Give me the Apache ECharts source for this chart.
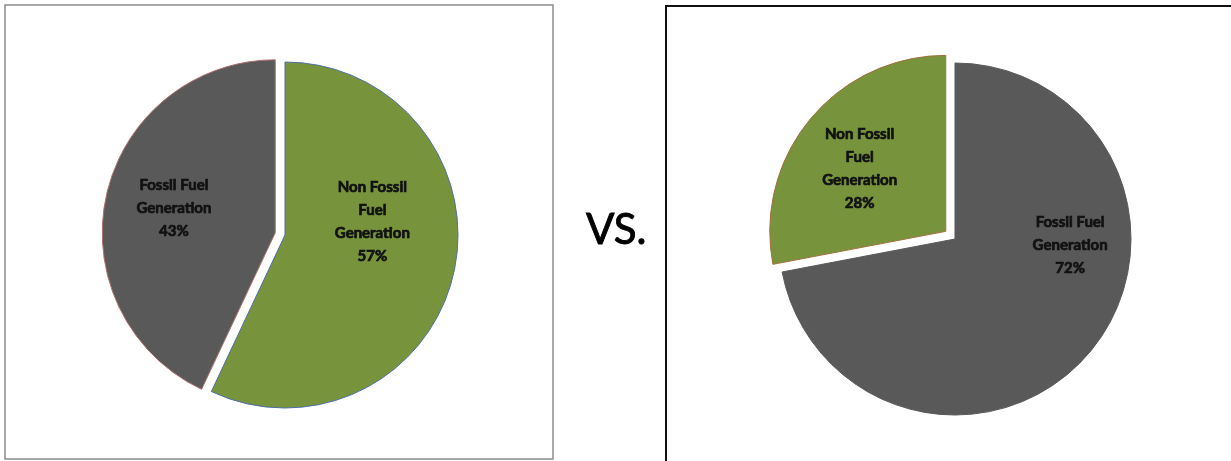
<!DOCTYPE html>
<html>
<head>
<meta charset="utf-8">
<script src="https://cdn.jsdelivr.net/npm/echarts@6/dist/echarts.min.js"></script>
<style>
  html, body { margin: 0; padding: 0; background: #fff; }
  #chart { width: 1231px; height: 461px; }
</style>
</head>
<body>
<div id="chart"></div>
<script>
  // data
  const leftNames = ['Non Fossil\nFuel\nGeneration', 'Fossil Fuel\nGeneration'];
  const leftValues = [57, 43];
  const leftColors = ['#77933c', '#595959'];
  const leftExploded = [false, true];

  const rightNames = ['Fossil Fuel\nGeneration', 'Non Fossil\nFuel\nGeneration'];
  const rightValues = [72, 28];
  const rightColors = ['#595959', '#77933c'];
  const rightExploded = [false, true];

  // label nudges (px) per slice, to sit where the original put them
  const leftNudge = [[0, -33], [-14, -5]];
  const rightNudge = [[45, -52], [-16, -5]];

  function buildData(names, values, colors, exploded, borders) {
    return names.map(function (n, i) {
      return {
        name: n,
        value: values[i],
        selected: exploded[i],
        itemStyle: { color: colors[i], borderColor: borders[i], borderWidth: 1 }
      };
    });
  }

  function pieSeries(center, radius, offset, data, nudge) {
    return {
      type: 'pie',
      center: center,
      radius: radius,
      startAngle: 90,
      clockwise: true,
      selectedMode: 'multiple',
      selectedOffset: offset,
      animation: false,
      emphasis: { disabled: true },
      label: {
        show: true,
        position: 'inside',
        formatter: '{b}\n{c}%',
        color: '#111',
        fontFamily: 'Lato',
        fontWeight: 'bold',
        fontSize: 15,
        lineHeight: 23,
        align: 'center',
        textBorderColor: '#111',
        textBorderWidth: 0.7
      },
      labelLine: { show: false },
      labelLayout: function (p) {
        return { dx: nudge[p.dataIndex][0], dy: nudge[p.dataIndex][1] };
      },
      data: data
    };
  }

  let myChart = echarts.init(document.getElementById('chart'));

  myChart.setOption({
    backgroundColor: '#ffffff',
    title: {
      text: 'VS.',
      left: 581,
      top: 204,
      textStyle: {
        fontFamily: 'Lato', fontSize: 42, fontWeight: 'normal', color: '#000',
        textBorderColor: '#000', textBorderWidth: 0.9
      }
    },
    graphic: [
      {
        type: 'rect',
        shape: { x: 5, y: 5, width: 548, height: 454 },
        style: { fill: null, stroke: '#8c8c8c', lineWidth: 1.5 },
        z: -1
      },
      {
        type: 'rect',
        shape: { x: 666, y: 6, width: 620, height: 520 },
        style: { fill: null, stroke: '#111', lineWidth: 2 },
        z: -1
      }
    ],
    series: [
      pieSeries([285, 235], 173, 10,
        buildData(leftNames, leftValues, leftColors, leftExploded, ['#4f6fa8', '#b07070']), leftNudge),
      pieSeries([955, 239], 176, 12,
        buildData(rightNames, rightValues, rightColors, rightExploded, ['#595959', '#a0703c']), rightNudge)
    ]
  });
</script>
</body>
</html>
